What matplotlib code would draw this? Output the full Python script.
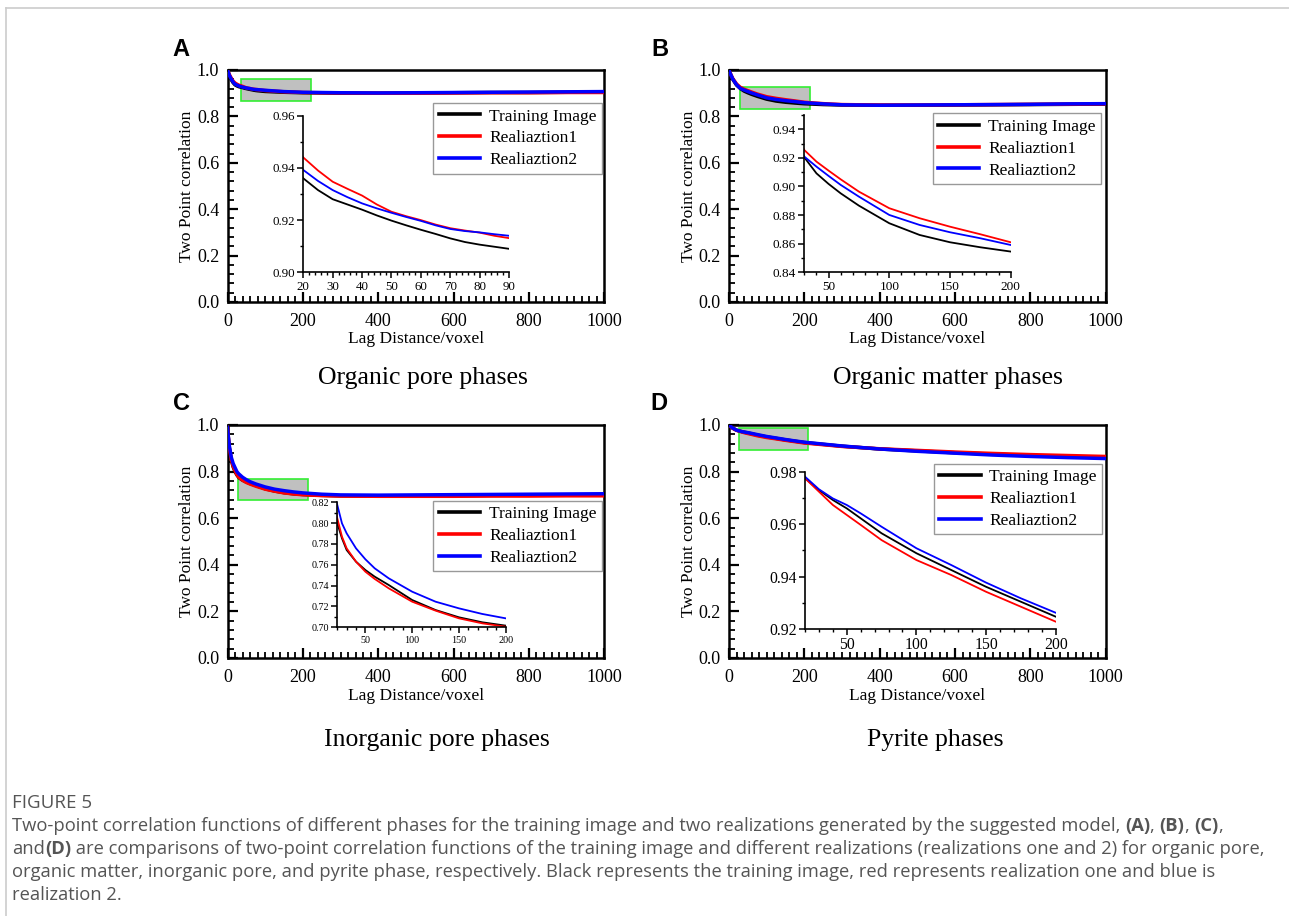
import matplotlib
matplotlib.use("Agg")
import matplotlib.pyplot as plt
from matplotlib.patches import Rectangle
from matplotlib.lines import Line2D
from matplotlib.ticker import MultipleLocator, FuncFormatter, FormatStrFormatter

# ---------------- data ----------------
series_names = ["Training Image", "Realiaztion1", "Realiaztion2"]
series_colors = ["#000000", "#ff0000", "#0000ff"]
panel_letters = ["A", "B", "C", "D"]
panel_titles = ["Organic pore phases", "Organic matter phases",
                "Inorganic pore phases", "Pyrite phases"]

lag_a = [0, 2, 5, 10, 15, 20, 25, 30, 35, 40, 45, 50, 55, 60, 65, 70, 75, 80, 85, 90, 100, 150, 200, 300, 400, 500, 600, 700, 800, 900, 1000]
ti_a = [1.0, 0.99, 0.975, 0.958, 0.945, 0.936, 0.9315, 0.928, 0.926, 0.924, 0.9218, 0.9198, 0.918, 0.9163, 0.9147, 0.913, 0.9116, 0.9106, 0.9098, 0.909, 0.9075, 0.904, 0.902, 0.900, 0.900, 0.901, 0.902, 0.903, 0.903, 0.904, 0.905]
r1_a = [1.0, 0.992, 0.98, 0.965, 0.952, 0.944, 0.939, 0.9347, 0.932, 0.9294, 0.926, 0.9232, 0.9215, 0.920, 0.9183, 0.9169, 0.916, 0.9152, 0.914, 0.9131, 0.9115, 0.906, 0.903, 0.901, 0.900, 0.900, 0.901, 0.902, 0.902, 0.903, 0.903]
r2_a = [1.0, 0.991, 0.977, 0.961, 0.948, 0.9392, 0.935, 0.9315, 0.9288, 0.9264, 0.9245, 0.9228, 0.9212, 0.9197, 0.918, 0.9166, 0.9158, 0.9153, 0.9146, 0.914, 0.9125, 0.907, 0.904, 0.902, 0.901, 0.902, 0.903, 0.904, 0.905, 0.906, 0.907]

lag_b = [0, 2, 5, 10, 20, 30, 40, 50, 60, 75, 100, 125, 150, 175, 200, 250, 300, 400, 500, 600, 700, 800, 900, 1000]
ti_b = [1.0, 0.99, 0.978, 0.96, 0.935, 0.9204, 0.9092, 0.9018, 0.8952, 0.8866, 0.8743, 0.8661, 0.861, 0.8575, 0.8545, 0.851, 0.849, 0.848, 0.848, 0.849, 0.850, 0.851, 0.852, 0.853]
r1_b = [1.0, 0.991, 0.98, 0.963, 0.94, 0.9255, 0.9174, 0.9111, 0.905, 0.8964, 0.8848, 0.8778, 0.8719, 0.8666, 0.861, 0.855, 0.851, 0.849, 0.849, 0.850, 0.851, 0.852, 0.853, 0.854]
r2_b = [1.0, 0.99, 0.979, 0.961, 0.937, 0.9209, 0.9139, 0.9074, 0.9011, 0.8929, 0.8801, 0.8731, 0.868, 0.8638, 0.8591, 0.854, 0.850, 0.848, 0.849, 0.850, 0.851, 0.852, 0.854, 0.855]

lag_c = [0, 2, 5, 10, 15, 20, 25, 30, 40, 50, 60, 75, 100, 125, 150, 175, 200, 250, 300, 400, 500, 600, 700, 800, 900, 1000]
ti_c = [0.99, 0.95, 0.90, 0.85, 0.82, 0.7998, 0.7854, 0.7742, 0.763, 0.755, 0.7486, 0.7406, 0.7262, 0.7166, 0.7096, 0.7048, 0.7016, 0.698, 0.696, 0.695, 0.696, 0.697, 0.698, 0.699, 0.700, 0.700]
r1_c = [0.99, 0.95, 0.90, 0.852, 0.824, 0.8046, 0.787, 0.7758, 0.763, 0.7534, 0.7464, 0.7374, 0.7246, 0.716, 0.7086, 0.7038, 0.7006, 0.697, 0.695, 0.694, 0.694, 0.694, 0.695, 0.695, 0.696, 0.696]
r2_c = [0.99, 0.955, 0.91, 0.862, 0.835, 0.8174, 0.7998, 0.7902, 0.7758, 0.7653, 0.7566, 0.747, 0.7342, 0.7246, 0.7182, 0.7128, 0.7086, 0.703, 0.700, 0.699, 0.700, 0.701, 0.702, 0.703, 0.704, 0.705]

lag_d = [0, 5, 10, 20, 30, 40, 50, 60, 75, 100, 125, 150, 175, 200, 300, 400, 500, 600, 700, 800, 900, 1000]
ti_d = [1.0, 0.992, 0.986, 0.9775, 0.973, 0.9692, 0.966, 0.9622, 0.9565, 0.9489, 0.9425, 0.9361, 0.9304, 0.9247, 0.909, 0.897, 0.889, 0.881, 0.875, 0.869, 0.864, 0.860]
r1_d = [1.0, 0.992, 0.986, 0.9775, 0.9724, 0.9673, 0.9635, 0.9597, 0.9539, 0.9463, 0.9406, 0.9342, 0.9285, 0.9228, 0.908, 0.898, 0.891, 0.884, 0.878, 0.873, 0.869, 0.865]
r2_d = [1.0, 0.993, 0.987, 0.9781, 0.9733, 0.9698, 0.9673, 0.9641, 0.959, 0.9508, 0.9444, 0.9377, 0.9317, 0.9262, 0.910, 0.897, 0.887, 0.879, 0.871, 0.865, 0.860, 0.856]

# zoom box (x0, x1, y0, y1) and inset view (x0, x1, y0, y1)
zoom_box_a = [36, 221, 0.868, 0.96]
zoom_box_b = [30, 214, 0.833, 0.925]
zoom_box_c = [29, 213, 0.678, 0.768]
zoom_box_d = [26, 210, 0.894, 0.986]
inset_view_a = [20, 90, 0.90, 0.96]
inset_view_b = [30, 200, 0.84, 0.95]
inset_view_c = [20, 200, 0.70, 0.82]
inset_view_d = [20, 200, 0.92, 0.98]

# ---------------- layout ----------------
W, H = 1289, 916
fig = plt.figure(figsize=(W / 100, H / 100), dpi=100)
SERIF = ["Liberation Serif", "DejaVu Serif"]
plt.rcParams["font.family"] = SERIF


def px_axes(l, t, r, b):
    return fig.add_axes([l / W, 1 - b / H, (r - l) / W, (b - t) / H])


main_boxes = [(227.5, 70, 604.3, 302), (729, 70, 1105.7, 302),
              (227.5, 425, 604.3, 658), (729, 425, 1105.7, 658)]
inset_boxes = [(303.3, 115.7, 509, 272.3), (804.3, 115, 1010.7, 272.3),
               (337.3, 502.3, 505.7, 627.3), (805, 471.7, 1055.7, 629)]
legend_anchor = [(0.993, 0.857), (0.987, 0.813), (0.993, 0.674), (0.99, 0.833)]
letter_pos = [(181, 49), (660, 49), (181, 404), (659, 404)]
title_pos = [(423, 378), (948, 378), (437, 740), (935, 740)]
inset_fs = [9.3, 9.5, 7.3, 11.3]
inset_major = [(10, 0.02), (50, 0.02), (50, 0.02), (50, 0.02)]
inset_minor = [(2, 0.01), (10, 0.01), (10, 0.01), (10, 0.01)]

panels = [
    (lag_a, [ti_a, r1_a, r2_a], zoom_box_a, inset_view_a),
    (lag_b, [ti_b, r1_b, r2_b], zoom_box_b, inset_view_b),
    (lag_c, [ti_c, r1_c, r2_c], zoom_box_c, inset_view_c),
    (lag_d, [ti_d, r1_d, r2_d], zoom_box_d, inset_view_d),
]

for i, (lag, ys, zb, iv) in enumerate(panels):
    ax = px_axes(*main_boxes[i])
    ax.set_xlim(0, 1000)
    ax.set_ylim(0, 1.0)
    ax.add_patch(Rectangle((zb[0], zb[2]), zb[1] - zb[0], zb[3] - zb[2],
                           facecolor="#c0c0c0", edgecolor="#33ee33", lw=1.2, zorder=1))
    handles = []
    for y, c, n in zip(ys, series_colors, series_names):
        h, = ax.plot(lag, y, color=c, lw=2.5, label=n, zorder=3)
        handles.append(h)
    for s in ax.spines.values():
        s.set_linewidth(1.8)
    ax.xaxis.set_major_locator(MultipleLocator(200))
    ax.xaxis.set_minor_locator(MultipleLocator(20))
    ax.yaxis.set_major_locator(MultipleLocator(0.2))
    ax.yaxis.set_minor_locator(MultipleLocator(0.04))
    ax.tick_params(which="both", direction="in", top=False, right=False,
                   labelsize=13)
    ax.tick_params(axis="x", pad=8)
    ax.tick_params(axis="y", pad=6)
    ax.tick_params(which="major", length=7, width=1.6)
    ax.tick_params(which="minor", length=4, width=1.3)
    ax.xaxis.set_major_formatter(FuncFormatter(lambda v, p: f"{v:.0f}"))
    ax.yaxis.set_major_formatter(FuncFormatter(lambda v, p: f"{v:.1f}"))
    ax.set_xlabel("Lag Distance/voxel", fontsize=12.5, labelpad=1)
    ax.set_ylabel("Two Point correlation", fontsize=12.5, labelpad=1)

    leg = ax.legend(handles=handles, loc="upper right", bbox_to_anchor=legend_anchor[i],
                    fontsize=12.5, frameon=True, fancybox=False, edgecolor="#808080",
                    handlelength=2.4, handletextpad=0.5, labelspacing=0.33,
                    borderpad=0.3, borderaxespad=0)
    leg.get_frame().set_linewidth(1.0)
    for lh in leg.get_lines():
        lh.set_linewidth(2.6)
    leg.set_zorder(5)

    # inset
    ia = px_axes(*inset_boxes[i])
    ia.patch.set_alpha(0)
    for y, c in zip(ys, series_colors):
        ia.plot(lag, y, color=c, lw=1.3)
    ia.set_xlim(iv[0], iv[1])
    ia.set_ylim(iv[2], iv[3])
    ia.spines["top"].set_visible(False)
    ia.spines["right"].set_visible(False)
    for s in ("left", "bottom"):
        ia.spines[s].set_linewidth(1.2)
    ia.xaxis.set_major_locator(MultipleLocator(inset_major[i][0]))
    ia.xaxis.set_minor_locator(MultipleLocator(inset_minor[i][0]))
    ia.yaxis.set_major_locator(MultipleLocator(inset_major[i][1]))
    ia.yaxis.set_minor_locator(MultipleLocator(inset_minor[i][1]))
    ia.yaxis.set_major_formatter(FormatStrFormatter("%.2f"))
    ia.tick_params(which="both", direction="out", labelsize=inset_fs[i], pad=2)
    ia.tick_params(which="major", length=4, width=1.1)
    ia.tick_params(which="minor", length=2.5, width=1.0)

    fig.text(letter_pos[i][0] / W, 1 - letter_pos[i][1] / H, panel_letters[i],
             family=["Liberation Sans", "DejaVu Sans"], weight="bold", fontsize=17,
             ha="center", va="center")
    fig.text(title_pos[i][0] / W, 1 - title_pos[i][1] / H, panel_titles[i],
             fontsize=18.5, ha="center", va="center")

# ---------------- frame and caption ----------------
fig.add_artist(Line2D([6 / W, 1], [1 - 8 / H, 1 - 8 / H], color="#cccccc", lw=1.2))
fig.add_artist(Line2D([6 / W, 6 / W], [1 - 8 / H, 0], color="#cccccc", lw=1.2))

SANS = ["Open Sans", "DejaVu Sans"]
cap_color = "#555555"
fig.text(12 / W, 1 - 803 / H, "FIGURE 5", family=SANS, fontsize=13.5,
         color=cap_color, va="center", ha="left")

caption_lines = [
    [("Two-point correlation functions of different phases for the training image and two realizations generated by the suggested model, ", "normal"),
     ("(A)", "bold"), (", ", "normal"), ("(B)", "bold"), (", ", "normal"), ("(C)", "bold"), (",", "normal")],
    [("and", "normal"), ("(D)", "bold"),
     (" are comparisons of two-point correlation functions of the training image and different realizations (realizations one and 2) for organic pore,", "normal")],
    [("organic matter, inorganic pore, and pyrite phase, respectively. Black represents the training image, red represents realization one and blue is", "normal")],
    [("realization 2.", "normal")],
]
cap_y = [826, 849, 872, 895]
renderer = fig.canvas.get_renderer()
for line, yy in zip(caption_lines, cap_y):
    x = 12.0
    for txt, wt in line:
        t = fig.text(x / W, 1 - yy / H, txt, family=SANS, fontsize=13.2, weight=wt,
                     color=cap_color, va="center", ha="left")
        bb = t.get_window_extent(renderer)
        x += bb.width

fig.savefig("out.png", dpi=100)
